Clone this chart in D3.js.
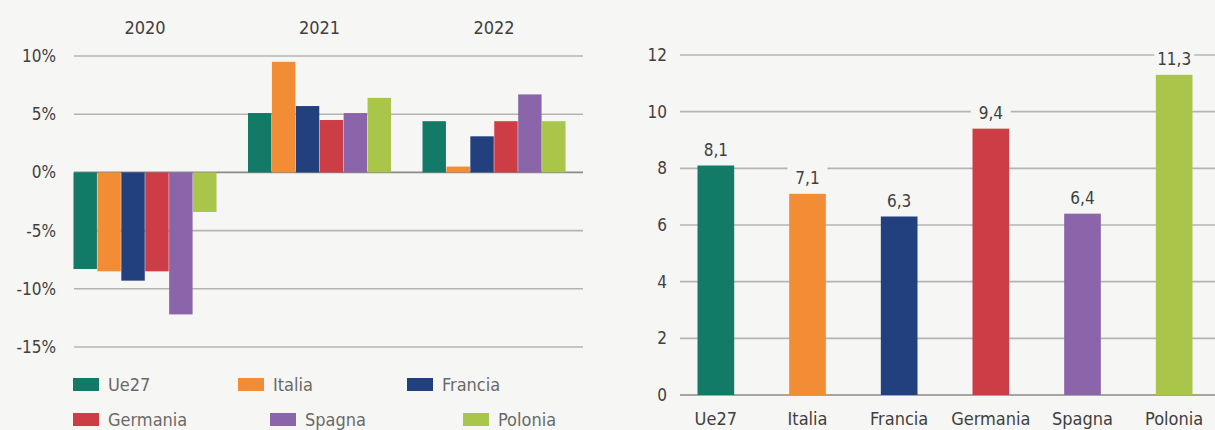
<!DOCTYPE html>
<html>
<head>
<meta charset="utf-8">
<script src="https://cdn.jsdelivr.net/npm/d3@7"></script>
<style>
  html, body { margin: 0; padding: 0; background: #f6f6f4; }
  svg { display: block; }
  text { font-family: "DejaVu Sans Condensed", "Liberation Sans Narrow", "Roboto", sans-serif; fill: #3f3f3f; }
</style>
</head>
<body>
<svg id="chart" width="1215" height="430"></svg>
<script>
// Countries and their colours
const countries = ["Ue27", "Italia", "Francia", "Germania", "Spagna", "Polonia"];
const colors = ["#137a68", "#f28c35", "#22407e", "#cc3d45", "#8b65aa", "#a9c64a"];

// Annual GDP change (%), by year
const years = ["2020", "2021", "2022"];
const growth2020 = [-8.3, -8.5, -9.3, -8.5, -12.2, -3.4];
const growth2021 = [5.1, 9.5, 5.7, 4.5, 5.1, 6.4];
const growth2022 = [4.4, 0.5, 3.1, 4.4, 6.7, 4.4];

// Left axis ticks
const pctTicks = [10, 5, 0, -5, -10, -15];

// Cumulative change 2020-2022, right panel
const cumulative = [8.1, 7.1, 6.3, 9.4, 6.4, 11.3];
const cumTicks = [0, 2, 4, 6, 8, 10, 12];

const svg = d3.select("#chart");
const gridColor = "#b4b4b4";
const baseColor = "#8a8a8a";

// ---------- Left panel: grouped bars ----------
const left = svg.append("g");
const yL = d3.scaleLinear().domain([-15, 10]).range([347, 56]);
const x0 = d3.scaleBand().domain(years).range([73, 566]).paddingInner(0.175).paddingOuter(0);
const x1 = d3.scaleBand().domain(countries).range([0, x0.bandwidth()]).padding(0.02);

const byYear = [growth2020, growth2021, growth2022];

left.selectAll("line.grid").data(pctTicks).join("line")
  .attr("x1", 74).attr("x2", 583)
  .attr("y1", d => yL(d)).attr("y2", d => yL(d))
  .attr("stroke", d => d === 0 ? baseColor : gridColor)
  .attr("stroke-width", 1.6);

left.selectAll("text.tick").data(pctTicks).join("text")
  .attr("x", 56).attr("y", d => yL(d)).attr("dy", "0.35em")
  .attr("text-anchor", "end").attr("font-size", 17)
  .text(d => d + "%");

left.selectAll("text.year").data(years).join("text")
  .attr("x", d => x0(d) + x0.bandwidth() / 2).attr("y", 34)
  .attr("text-anchor", "middle").attr("font-size", 18)
  .text(d => d);

years.forEach((yr, i) => {
  left.append("g").selectAll("rect").data(byYear[i]).join("rect")
    .attr("x", (d, j) => x0(yr) + x1(countries[j]))
    .attr("width", x1.bandwidth())
    .attr("y", d => yL(Math.max(0, d)))
    .attr("height", d => Math.abs(yL(d) - yL(0)))
    .attr("fill", (d, j) => colors[j]);
});

// Legend, two rows
const legendPos = [[73, 385], [238, 385], [407, 385], [73, 420], [270, 420], [463, 420]];
const legend = left.selectAll("g.leg").data(countries).join("g")
  .attr("transform", (d, i) => `translate(${legendPos[i][0]},${legendPos[i][1]})`);
legend.append("rect").attr("x", 0).attr("y", -7).attr("width", 26).attr("height", 13)
  .attr("fill", (d, i) => colors[i]);
legend.append("text").attr("x", 35).attr("y", 0).attr("dy", "0.35em")
  .attr("font-size", 18).style("fill", "#6a6a6a").text(d => d);

// ---------- Right panel: cumulative change ----------
const right = svg.append("g");
const yR = d3.scaleLinear().domain([0, 12]).range([395, 55]);
const xR = d3.scaleBand().domain(countries).range([670, 1220]).paddingInner(0.6).paddingOuter(0.3);

right.selectAll("line.grid").data(cumTicks).join("line")
  .attr("x1", 680).attr("x2", 1215)
  .attr("y1", d => yR(d)).attr("y2", d => yR(d))
  .attr("stroke", d => d === 0 ? baseColor : gridColor)
  .attr("stroke-width", 1.6);

right.selectAll("text.tick").data(cumTicks).join("text")
  .attr("x", 667).attr("y", d => yR(d)).attr("dy", "0.35em")
  .attr("text-anchor", "end").attr("font-size", 17)
  .text(d => d);

// Value labels sit on a knocked-out background so the gridlines break behind them
const fmt = d => d3.format(".1f")(d).replace(".", ",");
right.selectAll("rect.lblbg").data(cumulative).join("rect")
  .attr("x", (d, i) => xR(countries[i]) + xR.bandwidth() / 2 - 20)
  .attr("y", d => yR(d) - 28).attr("width", 40).attr("height", 20)
  .attr("fill", "#f6f6f4");

right.selectAll("rect.bar").data(cumulative).join("rect")
  .attr("x", (d, i) => xR(countries[i]))
  .attr("width", xR.bandwidth())
  .attr("y", d => yR(d))
  .attr("height", d => yR(0) - yR(d))
  .attr("fill", (d, i) => colors[i]);

right.selectAll("text.val").data(cumulative).join("text")
  .attr("x", (d, i) => xR(countries[i]) + xR.bandwidth() / 2)
  .attr("y", d => yR(d) - 10)
  .attr("text-anchor", "middle").attr("font-size", 17)
  .text(fmt);

right.selectAll("text.cat").data(countries).join("text")
  .attr("x", d => xR(d) + xR.bandwidth() / 2).attr("y", 419).attr("dy", "0.35em")
  .attr("text-anchor", "middle").attr("font-size", 18)
  .text(d => d);
</script>
</body>
</html>
